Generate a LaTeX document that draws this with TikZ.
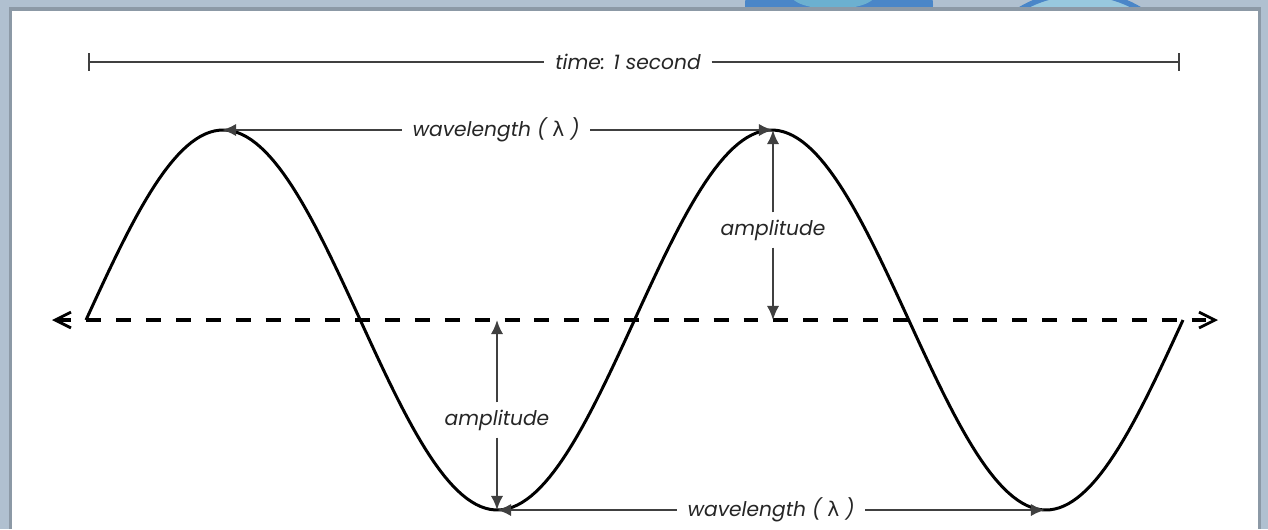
\documentclass[tikz,border=0pt]{standalone}
\usepackage{fontspec}
\setmainfont{Poppins}
\newfontfamily\greekfont{DejaVu Sans}
\usepackage{xcolor}
\usepackage{tikz}
\usetikzlibrary{arrows.meta, positioning, calc}
\definecolor{framegray}{RGB}{176, 192, 208}
\definecolor{frameedge}{RGB}{140, 153, 166}
\definecolor{bubbleblue}{RGB}{74, 134, 200}
\definecolor{bubbleteal}{RGB}{108, 176, 208}
\definecolor{dimgray}{RGB}{64, 64, 64}

\begin{document}
\begin{tikzpicture}[x=0.02cm, y=-0.02cm,
    wave/.style={black, line width=1.7pt},
    axisline/.style={black, line width=2.3pt, dash pattern=on 8.5pt off 8.5pt,
                     {Straight Barb[length=9pt,width=9pt,line width=1.6pt]}-{Straight Barb[length=9pt,width=9pt,line width=1.6pt]}},
    dimline/.style={dimgray, line width=1.2pt},
    dimarrow/.style={dimline, -{Latex[length=8pt,width=7pt]}},
    lbl/.style={fill=white, inner xsep=6pt, inner ysep=4pt,
                font=\fontsize{11.5}{13}\selectfont\itshape, text=black!85}]
    \useasboundingbox (0,0) rectangle (1268,529);
    % Window frame round the picture
    \fill[framegray] (0,0) rectangle (1268,529);
    \begin{scope}
        \clip (0,0) rectangle (1268,11);
        \fill[bubbleblue] (839,5) ellipse (94 and 60);
        \fill[bubbleteal] (833,-5) ellipse (42 and 14);
        \filldraw[fill=bubbleteal!70, draw=bubbleblue, line width=3pt] (1080,110) circle (117);
    \end{scope}
    \fill[frameedge] (9,7) rectangle (1261,529);
    \fill[white] (12,11) rectangle (1258,529);
    % Time bar
    \coordinate (timeL) at (88,62);
    \coordinate (timeR) at (1180,62);
    \node[lbl] (timeLbl) at (628,62) {time: 1 second};
    \draw[dimline, {Bar[width=10pt,line width=1.4pt]}-] (timeL) -- (timeLbl);
    \draw[dimline, -{Bar[width=10pt,line width=1.4pt]}] (timeLbl) -- (timeR);
    % Rest line
    \coordinate (baseL) at (52,320);
    \coordinate (baseR) at (1218,320);
    \draw[axisline] (baseL) -- (baseR);
    % The wave
    \draw[wave] plot[domain=86:1183, samples=240] (\x, {320-190*sin((\x-86)/548.5*360)});
    % Crests and troughs
    \coordinate (crestA) at (222,130);
    \coordinate (crestB) at (773,130);
    \coordinate (troughA) at (497,510);
    \coordinate (troughB) at (1045,510);
    \coordinate (restA) at (497,320);
    \coordinate (restB) at (773,320);
    % Wavelengths
    \node[lbl] (waveTop) at (496,130) {wavelength ( {\upshape\greekfont λ} )};
    \draw[dimarrow] (waveTop) -- (crestA);
    \draw[dimarrow] (waveTop) -- (crestB);
    \node[lbl] (waveBot) at (771,510) {wavelength ( {\upshape\greekfont λ} )};
    \draw[dimarrow] (waveBot) -- (troughA);
    \draw[dimarrow] (waveBot) -- (troughB);
    % Amplitudes
    \node[lbl] (ampTop) at (773,230) {amplitude};
    \draw[dimarrow] (ampTop) -- (crestB);
    \draw[dimarrow] (ampTop) -- (restB);
    \node[lbl] (ampBot) at (497,420) {amplitude};
    \draw[dimarrow] (ampBot) -- (restA);
    \draw[dimarrow] (ampBot) -- (troughA);
\end{tikzpicture}
\end{document}
